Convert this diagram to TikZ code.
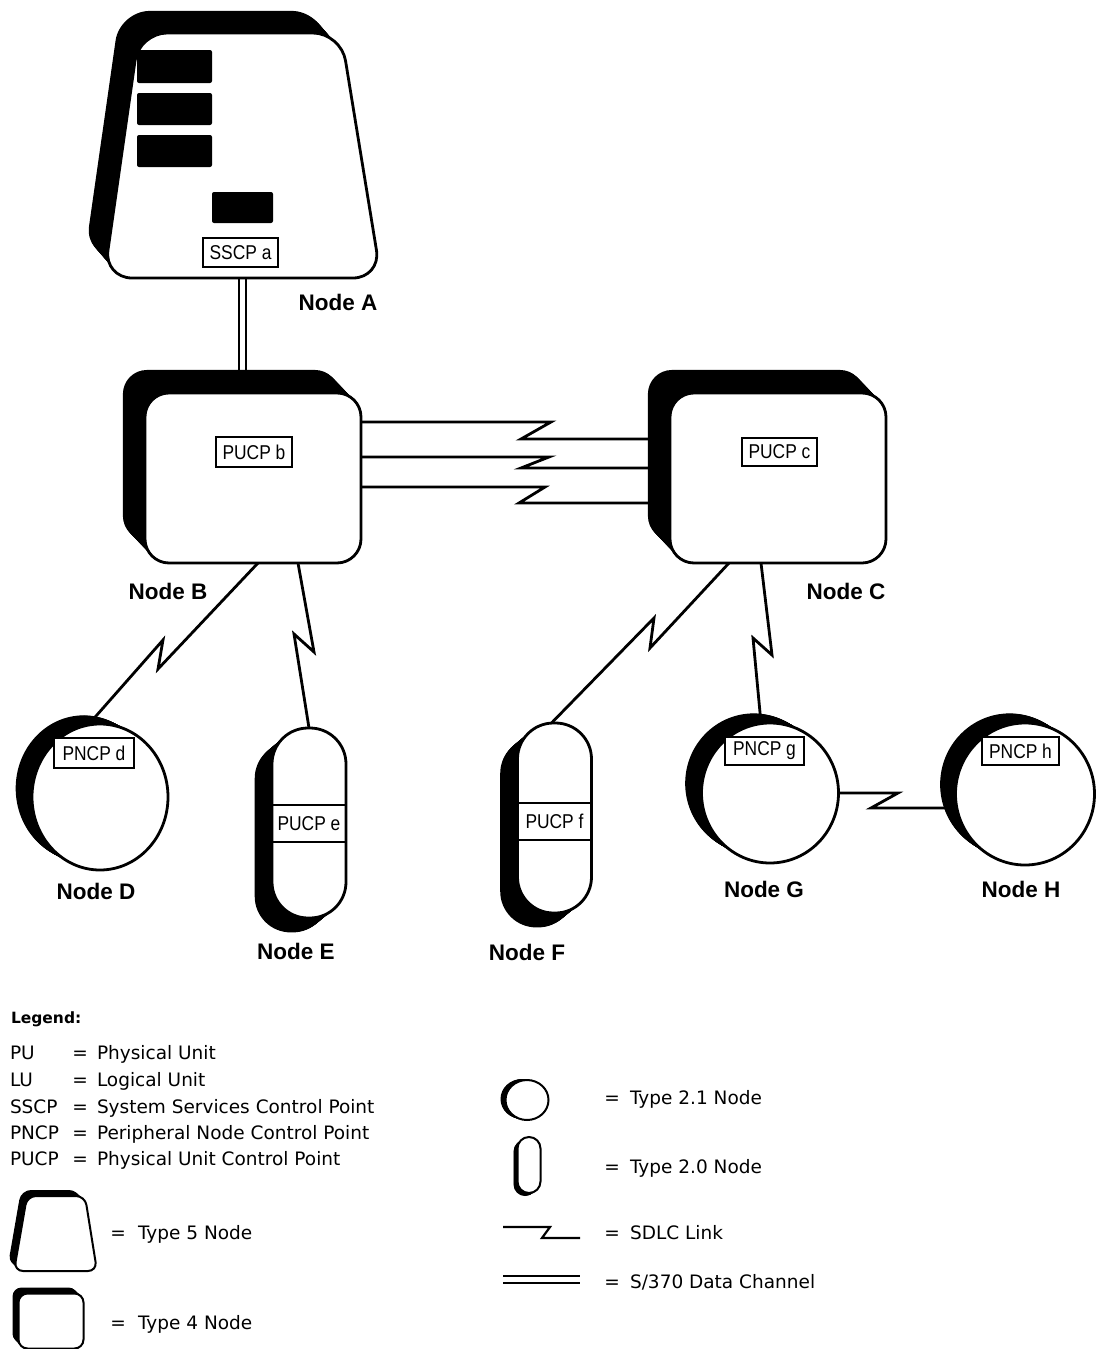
\documentclass[tikz,border=0pt]{standalone}
\usepackage{fontspec}
\setmainfont{Liberation Sans}
\newfontfamily\condfont[FakeStretch=0.87]{Liberation Sans}
\newfontfamily\legfont{DejaVu Sans}
\usetikzlibrary{shapes.geometric}
\pgfdeclarelayer{linklayer}
\pgfdeclarelayer{shadowlayer}
\pgfsetlayers{linklayer,shadowlayer,main}
\begin{document}
\begin{tikzpicture}[x=1pt,y=-1pt,
  every node/.style={inner sep=0pt,outer sep=0pt},
  t4/.style={draw,line width=2.8pt,fill=white,rounded corners=24pt,
    minimum width=216pt,minimum height=170pt},
  t21/.style={ellipse,draw,line width=2.8pt,fill=white},
  t20/.style={rectangle,draw,line width=2.8pt,fill=white,rounded corners=36pt,
    minimum width=74pt,minimum height=190pt},
  lbl/.style={draw,fill=white,line width=1.4pt,font=\condfont\fontsize{20}{20}\selectfont},
  band/.style={minimum width=74pt,minimum height=37pt,font=\condfont\fontsize{20}{20}\selectfont},
  nlabel/.style={font=\bfseries\fontsize{22.5}{22.5}\selectfont},
  link/.style={line width=2.8pt,line join=miter},
  channel/.style={line width=2.5pt,double distance=4.5pt},
  legtxt/.style={font=\legfont\fontsize{18.5}{18.5}\selectfont,anchor=base west},
  legeq/.style={font=\legfont\fontsize{18.5}{18.5}\selectfont,anchor=base},
  blk/.style={fill=black,rounded corners=2pt}
]
\useasboundingbox (0,0) rectangle (1099,1349);

% ---------- Node A (Type 5) ----------
\node[minimum width=277pt,minimum height=245pt] (A) at (242.5,155.5) {};
\foreach \t in {0.04,0.08,...,1.0} {
  \fill[rounded corners=30pt,shift={({-20*\t},{-23*\t})}]
    (139,33) -- (341,33) -- (381,278) -- (104,278) -- cycle;
}
\filldraw[fill=white,line width=2.8pt,rounded corners=28pt]
  (139,33) -- (341,33) -- (381,278) -- (104,278) -- cycle;
\fill[blk] (137,50) rectangle (212,83);
\fill[blk] (137,93) rectangle (212,125);
\fill[blk] (137,135) rectangle (212,167);
\fill[blk] (212,192) rectangle (273,223);
\node[lbl,minimum width=75pt,minimum height=29pt] (sa) at (240.5,252.5) {SSCP a};
\node[nlabel] (lA) at (338,302) {Node A};

% ---------- Nodes B, C (Type 4) ----------
\node[t4] (B) at (253,478) {};
\node[t4] (C) at (778,478) {};
\node[lbl,minimum width=76pt,minimum height=30pt] (pb) at (254,452) {PUCP b};
\node[lbl,minimum width=75pt,minimum height=28pt] (pc) at (779.5,452) {PUCP c};
\node[nlabel] (lB) at (168,591) {Node B};
\node[nlabel] (lC) at (846,591) {Node C};

% ---------- Type 2.1 nodes ----------
\node[t21,minimum width=136pt,minimum height=146pt] (D) at (100,797) {};
\node[t21,minimum width=137pt,minimum height=140pt] (G) at (770,793) {};
\node[t21,minimum width=139pt,minimum height=142pt] (H) at (1025,794) {};
\node[lbl,minimum width=80pt,minimum height=30pt] (pd) at (94,753) {PNCP d};
\node[lbl,minimum width=79pt,minimum height=28pt] (pg) at (764.5,751) {PNCP g};
\node[lbl,minimum width=77pt,minimum height=28pt] (ph) at (1020.5,751) {PNCP h};
\node[nlabel] (lD) at (96,891) {Node D};
\node[nlabel] (lG) at (764,889) {Node G};
\node[nlabel] (lH) at (1021,889) {Node H};

% ---------- Type 2.0 nodes ----------
\node[t20] (E) at (309,823) {};
\node[t20] (F) at (554.5,818) {};
\node[band] (eb) at (309,823.5) {PUCP e};
\node[band] (fb) at (554.5,821.5) {PUCP f};
\draw[line width=1.4pt] (eb.north west) -- (eb.north east) (eb.south west) -- (eb.south east);
\draw[line width=1.4pt] (fb.north west) -- (fb.north east) (fb.south west) -- (fb.south east);
\node[nlabel] (lE) at (296,951) {Node E};
\node[nlabel] (lF) at (527,952) {Node F};

% ---------- extruded shadows ----------
\begin{pgfonlayer}{shadowlayer}
  \foreach \t in {0.04,0.08,...,1.0} {
    \fill[rounded corners=24pt] ([shift={({-23*\t},{-24*\t})}]B.south west) rectangle ([shift={({-23*\t},{-24*\t})}]B.north east);
    \fill[rounded corners=24pt] ([shift={({-23*\t},{-24*\t})}]C.south west) rectangle ([shift={({-23*\t},{-24*\t})}]C.north east);
    \fill ([shift={({-17*\t},{-9*\t})}]D.center) ellipse [x radius=68pt,y radius=73pt];
    \fill ([shift={({-17*\t},{-10*\t})}]G.center) ellipse [x radius=68.5pt,y radius=70pt];
    \fill ([shift={({-16*\t},{-10*\t})}]H.center) ellipse [x radius=69.5pt,y radius=71pt];
    \fill[rounded corners=36pt] ([shift={({-18*\t},{15*\t})}]E.south west) rectangle ([shift={({-18*\t},{15*\t})}]E.north east);
    \fill[rounded corners=36pt] ([shift={({-18*\t},{15*\t})}]F.south west) rectangle ([shift={({-18*\t},{15*\t})}]F.north east);
  }
\end{pgfonlayer}

% ---------- connectors ----------
\begin{pgfonlayer}{linklayer}
  \draw[channel] (A.south) -- (A.south |- B.north);
  \draw[link] ([yshift=56pt]B.east) -- (551,422) -- (521,439) -- ([yshift=39pt]C.west);
  \draw[link] ([yshift=21pt]B.east) -- (549,457) -- (521,468) -- ([yshift=10pt]C.west);
  \draw[link] ([yshift=-9pt]B.east) -- (545,487) -- (519,503) -- ([yshift=-25pt]C.west);
  \draw[link] ([xshift=5pt]B.south) -- (158,669) -- (163,640) -- ([xshift=-11pt]D.north);
  \draw[link] ([xshift=45pt]B.south) -- (314,652) -- (294,634) -- (E.north);
  \draw[link] ([xshift=-49pt]C.south) -- (650,648) -- (654,618) -- ([xshift=-3pt]F.north);
  \draw[link] ([xshift=-17pt]C.south) -- (772,655) -- (753,638) -- ([xshift=-9pt]G.north);
  \draw[link] (G.east) -- (898,793) -- (871,808) -- ([yshift=-14pt]H.west);
\end{pgfonlayer}

% ---------- Legend ----------
\node[font=\legfont\bfseries\fontsize{15.5}{15.5}\selectfont,anchor=base west] (lg) at (11,1023) {Legend:};
\node[legtxt] (k1) at (10,1059) {PU};
\node[legeq] (e1) at (80,1059) {=};
\node[legtxt] (d1) at (97,1059) {Physical Unit};
\node[legtxt] (k2) at (10,1086) {LU};
\node[legeq] (e2) at (80,1086) {=};
\node[legtxt] (d2) at (97,1086) {Logical Unit};
\node[legtxt] (k3) at (10,1113) {SSCP};
\node[legeq] (e3) at (80,1113) {=};
\node[legtxt] (d3) at (97,1113) {System Services Control Point};
\node[legtxt] (k4) at (10,1139) {PNCP};
\node[legeq] (e4) at (80,1139) {=};
\node[legtxt] (d4) at (97,1139) {Peripheral Node Control Point};
\node[legtxt] (k5) at (10,1165) {PUCP};
\node[legeq] (e5) at (80,1165) {=};
\node[legtxt] (d5) at (97,1165) {Physical Unit Control Point};

% Type 5 symbol
\foreach \t in {0.1,0.2,...,1.0} {
  \fill[rounded corners=10pt,shift={({-6*\t},{-6*\t})}] (27,1196) -- (85,1196) -- (97,1271) -- (14,1271) -- cycle;
}
\filldraw[fill=white,line width=2pt,rounded corners=9pt]
  (27,1196) -- (85,1196) -- (97,1271) -- (14,1271) -- cycle;
\node[legeq] (e6) at (118,1239) {=};
\node[legtxt] (d6) at (138,1239) {Type 5 Node};

% Type 4 symbol
\node[draw,fill=white,line width=2pt,rounded corners=9pt,minimum width=65pt,minimum height=55pt] (L4) at (51,1321) {};
\node[legeq] (e7) at (118,1329) {=};
\node[legtxt] (d7) at (138,1329) {Type 4 Node};

% Type 2.1 symbol
\node[ellipse,draw,fill=white,line width=2pt,minimum width=43pt,minimum height=40pt] (L21) at (527,1100) {};
\node[legeq] (e8) at (612,1104) {=};
\node[legtxt] (d8) at (630,1104) {Type 2.1 Node};

% Type 2.0 symbol
\node[draw,fill=white,line width=2pt,rounded corners=11.5pt,minimum width=23pt,minimum height=56pt] (L20) at (529,1165) {};
\node[legeq] (e9) at (612,1173) {=};
\node[legtxt] (d9) at (630,1173) {Type 2.0 Node};

\begin{pgfonlayer}{shadowlayer}
  \foreach \t in {0.1,0.2,...,1.0} {
    \fill[rounded corners=9pt] ([shift={({-6*\t},{-6*\t})}]L4.south west) rectangle ([shift={({-6*\t},{-6*\t})}]L4.north east);
    \fill ([shift={({-5*\t},{-1*\t})}]L21.center) ellipse [x radius=21.5pt,y radius=20pt];
    \fill[rounded corners=11.5pt] ([shift={({-4*\t},{3*\t})}]L20.south west) rectangle ([shift={({-4*\t},{3*\t})}]L20.north east);
  }
\end{pgfonlayer}

% SDLC symbol
\coordinate (sdl1) at (503,1227);
\coordinate (sdl2) at (580,1238);
\draw[line width=2.2pt,line join=miter] (sdl1) -- (550,1227) -- (542,1238) -- (sdl2);
\node[legeq] (e10) at (612,1239) {=};
\node[legtxt] (d10) at (630,1239) {SDLC Link};

% Channel symbol
\coordinate (ch1) at (503,1279);
\coordinate (ch2) at (580,1279);
\draw[line width=2pt,double distance=5pt] (ch1) -- (ch2);
\node[legeq] (e11) at (612,1288) {=};
\node[legtxt] (d11) at (630,1288) {S/370 Data Channel};
\end{tikzpicture}
\end{document}
